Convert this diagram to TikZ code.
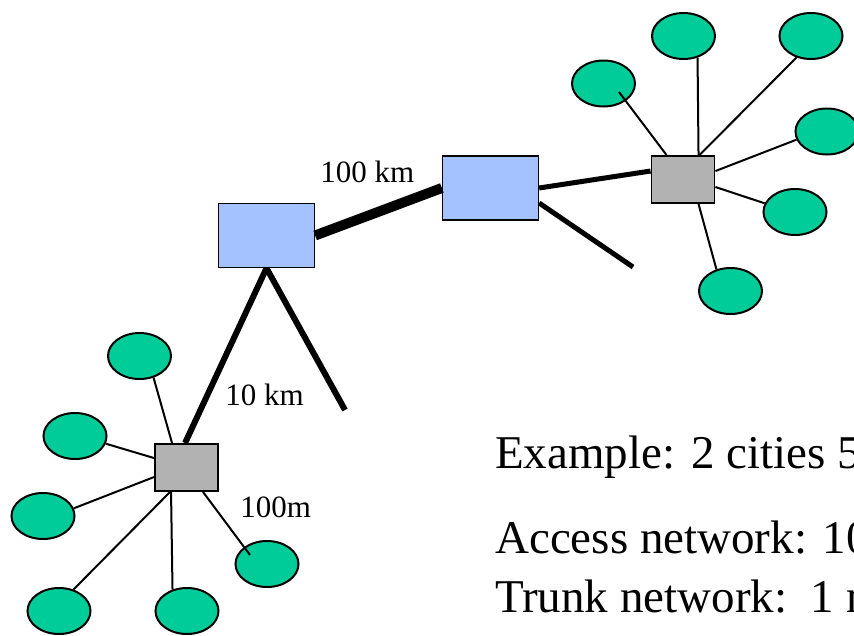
\documentclass[tikz,border=0pt]{standalone}
\usepackage{fontspec}
\setmainfont{Liberation Serif}
\usetikzlibrary{shapes.geometric,calc}
\definecolor{leafgreen}{HTML}{00CC99}
\definecolor{hubblue}{HTML}{A3C2FF}
\definecolor{hubgray}{HTML}{B2B2B2}
\tikzset{
  leaf/.style={ellipse,draw=black,line width=1.5pt,fill=leafgreen,inner sep=0pt,minimum width=47.25pt,minimum height=34.5pt},
  graybox/.style={rectangle,draw=black,line width=1.2pt,fill=hubgray,inner sep=0pt,minimum width=47.5pt,minimum height=35.5pt},
  bluebox/.style={rectangle,draw=black,line width=1.2pt,fill=hubblue,inner sep=0pt,minimum width=71.75pt,minimum height=47.75pt},
  thinlink/.style={line width=1.5pt},
  midlink/.style={line width=3.75pt},
  thicklink/.style={line width=4.5pt},
  trunklink/.style={line width=7.5pt},
  smalllabel/.style={anchor=base west,inner sep=0pt,font=\fontsize{23.25pt}{28pt}\selectfont},
  biglabel/.style={anchor=base west,inner sep=0pt,font=\fontsize{35.25pt}{42pt}\selectfont},
}
\begin{document}
\begin{tikzpicture}[x=0.75pt,y=-0.75pt]
\useasboundingbox (0,0) rectangle (854,636);
\clip (0,0) rectangle (854,636);
% leaves bottom-left
\node[leaf] (E1) at (139.5,356) {};
\node[leaf] (E2) at (75,436) {};
\node[leaf] (E3) at (43,516) {};
\node[leaf] (E4) at (59,611) {};
\node[leaf] (E5) at (187,611) {};
\node[leaf] (E6) at (267,564) {};
% leaves top-right
\node[leaf] (T1) at (603.5,83.5) {};
\node[leaf] (T2) at (683.5,36) {};
\node[leaf] (T3) at (811,36) {};
\node[leaf] (T4) at (827,131.5) {};
\node[leaf] (T5) at (795,212) {};
\node[leaf] (T6) at (730.5,291) {};
% hubs
\node[graybox] (B1) at (186.5,467.5) {};
\node[bluebox] (BL) at (266.5,235.5) {};
\node[bluebox] (BR) at (490.5,188) {};
\node[graybox] (G2) at (683,179.5) {};
% free ends
\coordinate (BLfree) at (345,410);
\coordinate (BRfree) at (633,267);
\coordinate (E6in) at ($(E6)+(-17,-9)$);
\coordinate (T1in) at ($(T1)+(15.5,8.5)$);
% access links bottom-left
\draw[thinlink] ($(B1.north west)+(18,0)$) -- (E1.-57);
\draw[thinlink] ($(B1.north west)+(0,15)$) -- (E2.-14);
\draw[thinlink] ($(B1.north west)+(0,34)$) -- (E3.14);
\draw[thinlink] ($(B1.south west)+(16,0)$) -- (E4.56);
\draw[thinlink] ($(B1.south west)+(17,0)$) -- (E5.124);
\draw[thinlink] ($(B1.south west)+(49,0)$) -- (E6in);
% access links top-right
\draw[thinlink] ($(G2.north west)+(16,0)$) -- (T1in);
\draw[thinlink] ($(G2.north west)+(48,0)$) -- (T2.-57);
\draw[thinlink] ($(G2.north west)+(49,0)$) -- (T3.-124);
\draw[thinlink] ($(G2.north east)+(0,16)$) -- (T4.-165);
\draw[thinlink] ($(G2.north east)+(0,32)$) -- (T5.164);
\draw[thinlink] ($(G2.south west)+(48,0)$) -- (T6.123);
% trunk links
\draw[thicklink] ($(B1.north west)+(31,0)$) -- (BL.south);
\draw[thicklink] (BL.south) -- (BLfree);
\draw[trunklink] (BL.east) -- (BR.west);
\draw[midlink] ($(BR.east)+(0,15)$) -- (BRfree);
\draw[midlink] (BR.east) -- ($(G2.north west)+(0,16)$);
% labels
\node[smalllabel] (L100km) at (320,182) {100 km};
\node[smalllabel] (L10km) at (225,405) {10 km};
\node[smalllabel] (L100m) at (240,517) {100m};
\node[biglabel] (Lex) at (495,468) {Example: 2 cities 5};
\node[biglabel] (Lacc) at (495,553) {Access network: 10};
\node[biglabel] (Ltrunk) at (495,612) {Trunk network:~~1 m};
\end{tikzpicture}
\end{document}
